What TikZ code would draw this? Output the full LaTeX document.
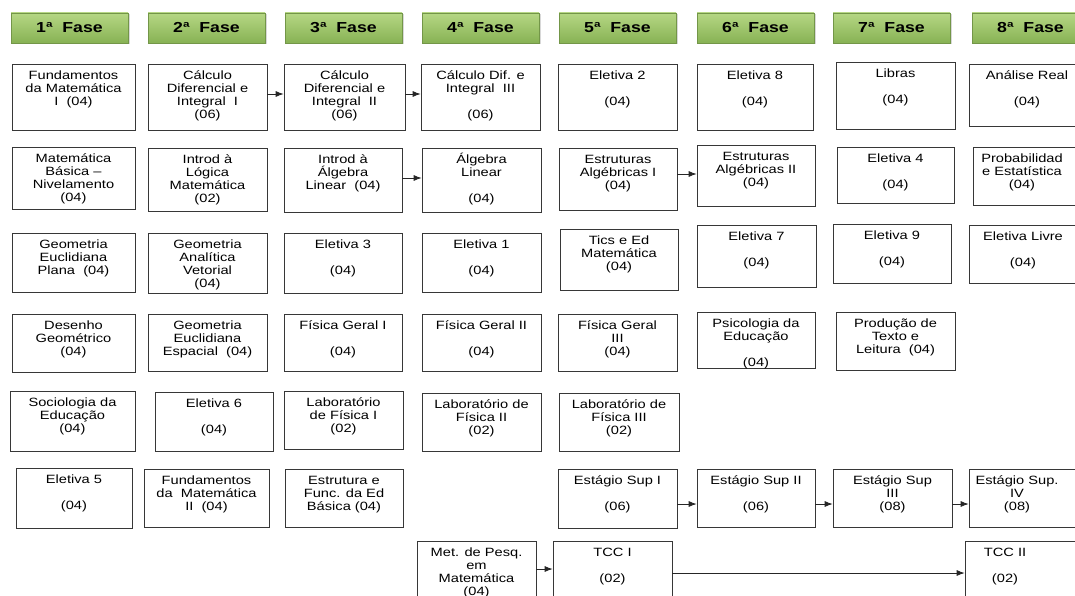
\documentclass[tikz,border=0pt]{standalone}
\usepackage{fontspec}
\setmainfont{Liberation Sans}[FakeStretch=1.22]
\usetikzlibrary{fit,shadows,arrows.meta}
\definecolor{hdrtop}{RGB}{182,215,132}
\definecolor{hdrbot}{RGB}{135,178,84}
\definecolor{hdrdraw}{RGB}{115,150,72}
\definecolor{boxline}{RGB}{55,55,55}
\newcommand\bodyfont{\fontsize{12}{13}\selectfont}
\newcommand\hdrfont{\fontsize{14.5}{16}\selectfont\bfseries}
\tikzset{
  crsbox/.style={draw=boxline, line width=0.7pt, fill=white, inner sep=0pt, rectangle},
  crstxt/.style={anchor=north, inner sep=0pt, align=center, font=\bodyfont},
  hdrbox/.style={draw=hdrdraw, line width=0.6pt, top color=hdrtop, bottom color=hdrbot,
     inner sep=0pt,
     drop shadow={shadow xshift=1.5pt, shadow yshift=-1.5pt, opacity=0.3}},
  hdrtxt/.style={inner sep=0pt, font=\hdrfont},
  arr/.style={-{Latex[length=8pt,width=6pt]}, line width=0.8pt, draw=black!85}
}
\newcommand\crs[7]{%
  \node[crsbox, fit={(#2,#3)(#4,#5)}] (#1) {};
  \node[crstxt] (#1t) at (#6,#3+4.5) {\rule{0pt}{10.8pt}#7};
}
\newcommand\hdr[3]{%
  \node[hdrbox, fit={(#2,13)(#2+117,43)}] (#1) {};
  \node[hdrtxt] (#1t) at (#1.center) {#3};
}
\begin{document}
\begin{tikzpicture}[x=1pt,y=-1pt]
\useasboundingbox (0,0) rectangle (1075,596);
\clip (0,0) rectangle (1075,596);
\fill[white] (0,0) rectangle (1075,596);

% headers
\hdr{h1}{11}{1ª~~Fase}
\hdr{h2}{148}{2ª~~Fase}
\hdr{h3}{285}{3ª~~Fase}
\hdr{h4}{422}{4ª~~Fase}
\hdr{h5}{559}{5ª~~Fase}
\hdr{h6}{697}{6ª~~Fase}
\hdr{h7}{833}{7ª~~Fase}
\hdr{h8}{972}{8ª~~Fase}

% column 1
\crs{f1}{12}{64}{135}{130}{73.5}{Fundamentos\\da Matemática\\I~~(04)}
\crs{mb}{12}{147}{135}{209}{73.5}{Matemática\\Básica –\\Nivelamento\\(04)}
\crs{gep}{12}{233}{135}{292}{73.5}{Geometria\\Euclidiana\\Plana~~(04)}
\crs{dg}{12}{314}{135}{372}{73.5}{Desenho\\Geométrico\\(04)}
\crs{soc}{10}{391}{135}{451}{72.5}{Sociologia da\\Educação\\(04)}
\crs{el5}{16}{468}{132}{528}{74}{Eletiva 5\\\mbox{}\\(04)}

% column 2
\crs{c1}{148}{64}{267}{130}{207.5}{Cálculo\\Diferencial e\\Integral~~I\\(06)}
\crs{il}{148}{148}{267}{211}{207.5}{Introd à\\Lógica\\Matemática\\(02)}
\crs{gav}{148}{233}{267}{293}{207.5}{Geometria\\Analítica\\Vetorial\\(04)}
\crs{gee}{148}{314}{267}{371}{207.5}{Geometria\\Euclidiana\\Espacial~~(04)}
\crs{el6}{155}{392}{273}{451}{214}{Eletiva 6\\\mbox{}\\(04)}
\crs{f2}{144}{469}{269}{527}{206.5}{Fundamentos\\da~~Matemática\\II~~(04)}

% column 3
\crs{c2}{284}{64}{405}{130}{344.5}{Cálculo\\Diferencial e\\Integral~~II\\(06)}
\crs{ia}{284}{148}{402}{212}{343}{Introd à\\Álgebra\\Linear~~(04)}
\crs{el3}{284}{233}{402}{293}{343}{Eletiva 3\\\mbox{}\\(04)}
\crs{fg1}{284}{314}{402}{371}{343}{Física Geral I\\\mbox{}\\(04)}
\crs{lf1}{284}{391}{403}{449}{343.5}{Laboratório\\de Física I\\(02)}
\crs{efe}{285}{469}{403}{527}{344}{Estrutura e\\Func. da Ed\\Básica (04)}

% column 4
\crs{c3}{421}{64}{540}{130}{480.5}{Cálculo Dif. e\\Integral~~III\\\mbox{}\\(06)}
\crs{al}{422}{148}{541}{212}{481.5}{Álgebra\\Linear\\\mbox{}\\(04)}
\crs{el1}{422}{233}{541}{292}{481.5}{Eletiva 1\\\mbox{}\\(04)}
\crs{fg2}{422}{314}{541}{371}{481.5}{Física Geral II\\\mbox{}\\(04)}
\crs{lf2}{422}{393}{541}{451}{481.5}{Laboratório de\\Física II\\(02)}
\crs{mp}{417}{541}{536}{605}{476.5}{Met. de Pesq.\\em\\Matemática\\(04)}

% column 5
\crs{el2}{558}{64}{677}{130}{617.5}{Eletiva 2\\\mbox{}\\(04)}
\crs{ea1}{559}{148}{677}{210}{618}{Estruturas\\Algébricas I\\(04)}
\crs{tics}{560}{229}{678}{290}{619}{Tics e Ed\\Matemática\\(04)}
\crs{fg3}{558}{314}{677}{371}{617.5}{Física Geral\\III\\(04)}
\crs{lf3}{559}{393}{679}{451}{619}{Laboratório de\\Física III\\(02)}
\crs{es1}{558}{469}{677}{528}{617.5}{Estágio Sup I\\\mbox{}\\(06)}
\crs{tcc1}{553}{541}{672}{605}{612.5}{TCC I\\\mbox{}\\(02)}

% column 6
\crs{el8}{697}{64}{813}{130}{755}{Eletiva 8\\\mbox{}\\(04)}
\crs{ea2}{697}{145}{815}{206}{756}{Estruturas\\Algébricas II\\(04)}
\crs{el7}{697}{225}{816}{287}{756.5}{Eletiva 7\\\mbox{}\\(04)}
\crs{psi}{697}{312}{815}{368}{756}{Psicologia da\\Educação\\\mbox{}\\(04)}
\crs{es2}{697}{469}{815}{527}{756}{Estágio Sup II\\\mbox{}\\(06)}

% column 7
\crs{lib}{836}{62}{955}{129}{895.5}{Libras\\\mbox{}\\(04)}
\crs{el4}{837}{147}{954}{203}{895.5}{Eletiva 4\\\mbox{}\\(04)}
\crs{el9}{833}{224}{951}{283}{892}{Eletiva 9\\\mbox{}\\(04)}
\crs{pt}{836}{312}{955}{370}{895.5}{Produção de\\Texto e\\Leitura~~(04)}
\crs{es3}{833}{469}{952}{527}{892.5}{Estágio Sup\\III\\(08)}

% column 8
\crs{ar}{969}{64}{1090}{126}{1027}{Análise Real\\\mbox{}\\(04)}
\crs{pe}{973}{147}{1090}{205}{1022}{Probabilidad\\e Estatística\\(04)}
\crs{elv}{969}{225}{1090}{283}{1023}{Eletiva Livre\\\mbox{}\\(04)}
\crs{es4}{969}{469}{1090}{527}{1017}{Estágio Sup.\\IV\\(08)}
\crs{tcc2}{965}{541}{1090}{605}{1005}{TCC II\\\mbox{}\\(02)}

% connectors
\draw[arr] (c1.east |- 0,94) -- (c2.west |- 0,94);
\draw[arr] (c2.east |- 0,94) -- (c3.west |- 0,94);
\draw[arr] (ia.east |- 0,178) -- (al.west |- 0,178);
\draw[arr] (ea1.east |- 0,174) -- (ea2.west |- 0,174);
\draw[arr] (es1.east |- 0,504) -- (es2.west |- 0,504);
\draw[arr] (es2.east |- 0,504) -- (es3.west |- 0,504);
\draw[arr] (es3.east |- 0,504) -- (es4.west |- 0,504);
\draw[arr] (mp.east |- 0,569) -- (tcc1.west |- 0,569);
\draw[arr] (tcc1.east |- 0,573) -- (tcc2.west |- 0,573);
\end{tikzpicture}
\end{document}
